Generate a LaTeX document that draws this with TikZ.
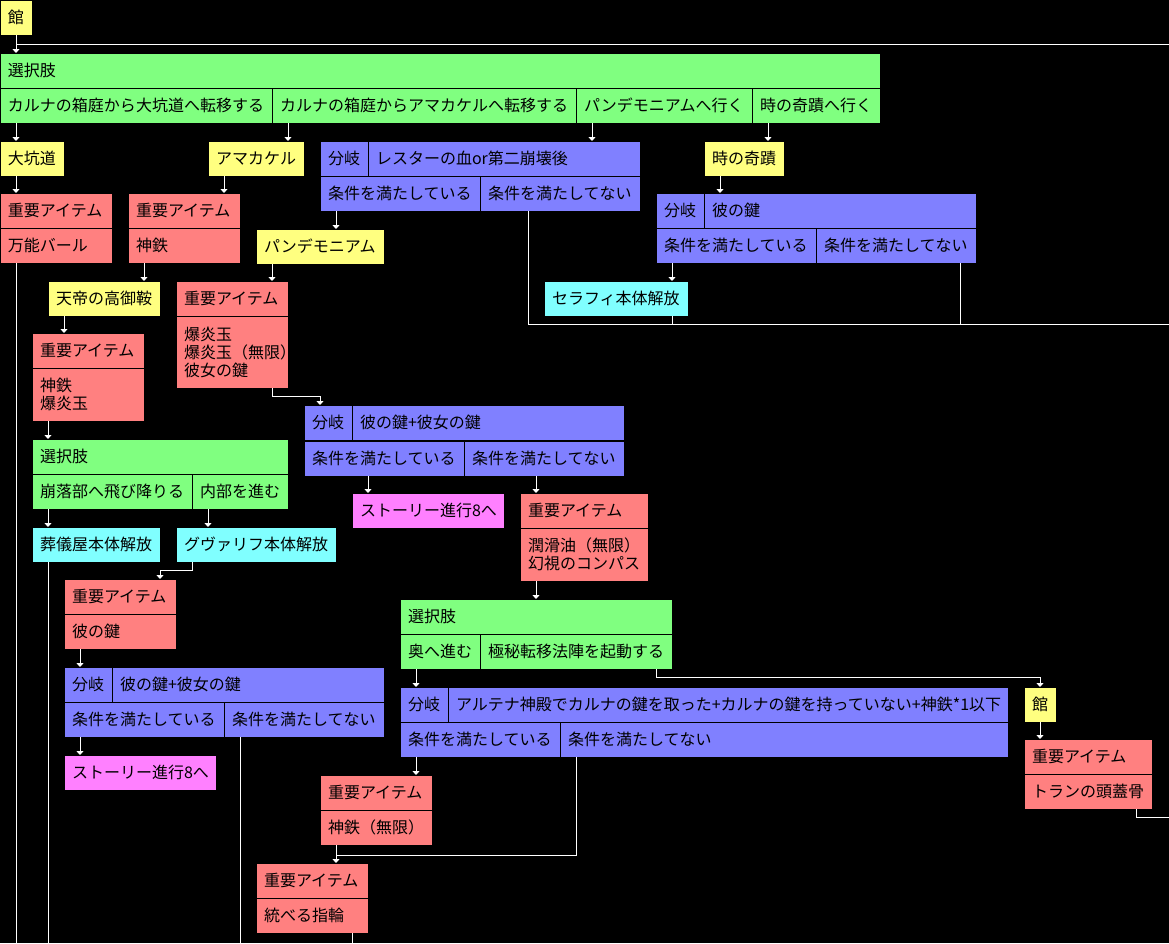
\documentclass[tikz,border=0pt]{standalone}
\usepackage{fontspec}
\usepackage{tikz}
\usetikzlibrary{arrows.meta, calc}
\newfontfamily\jp{Noto Sans CJK JP}
\definecolor{yelbox}{HTML}{FFFF80}
\definecolor{grnbox}{HTML}{80FF80}
\definecolor{blubox}{HTML}{8080FF}
\definecolor{redbox}{HTML}{FF8080}
\definecolor{cyabox}{HTML}{80FFFF}
\definecolor{magbox}{HTML}{FF80FF}
\tikzset{
  cellw/.code={\pgfmathsetmacro\cellwd{#1-16}\edef\tmpcell{\noexpand\tikzset{minimum width=#1pt, text width=\cellwd pt}}\tmpcell},
  cell/.style={draw=black, line width=1pt, anchor=north west, inner xsep=8pt, inner ysep=0pt, outer sep=0pt,
    minimum height=35pt, align=left, font=\jp\fontsize{16pt}{18pt}\selectfont},
  yelcell/.style={cell, fill=yelbox},
  grncell/.style={cell, fill=grnbox},
  blucell/.style={cell, fill=blubox},
  redcell/.style={cell, fill=redbox},
  cyacell/.style={cell, fill=cyabox},
  magcell/.style={cell, fill=magbox},
  wire/.style={draw=white, line width=1pt},
  arr/.style={wire, -{Triangle[width=7pt,length=4pt]}}
}
\newcommand{\drop}[2]{\draw[arr] ([xshift=16pt]#1.south west) coordinate (p) -- (p |- #2.north);}
\newcommand{\dropto}[2]{\path ([xshift=16pt]#2.north west) coordinate (p); \draw[arr] (p |- #1.south) -- (p);}

\begin{document}
\begin{tikzpicture}[x=1pt, y=-1pt]
\useasboundingbox (0,0) rectangle (1169,943);
\fill[black] (0,0) rectangle (1169,943);
\coordinate (edgeA) at (1169,44);
\coordinate (edgeB) at (1169,324);
\coordinate (edgeC) at (1169,817);
\coordinate (floor) at (0,943);

% top
\node[yelcell, cellw=32] (yakata1) at (0,0) {館};
\node[grncell, cellw=880] (sel1) at (0,53) {選択肢};
\node[grncell, cellw=272] (sel1a) at (0,88) {カルナの箱庭から大坑道へ転移する};
\node[grncell, cellw=304] (sel1b) at (272,88) {カルナの箱庭からアマカケルへ転移する};
\node[grncell, cellw=176] (sel1c) at (576,88) {パンデモニアムへ行く};
\node[grncell, cellw=128] (sel1d) at (752,88) {時の奇蹟へ行く};

\node[yelcell, cellw=64] (daikou) at (0,141) {大坑道};
\node[yelcell, cellw=96] (amakakeru) at (208,141) {アマカケル};
\node[blucell, cellw=48] (br1) at (320,141) {分岐};
\node[blucell, cellw=272] (br1x) at (368,141) {レスターの血or第二崩壊後};
\node[blucell, cellw=160] (br1y) at (320,176) {条件を満たしている};
\node[blucell, cellw=160] (br1n) at (480,176) {条件を満たしてない};
\node[yelcell, cellw=80] (toki) at (704,141) {時の奇蹟};

\node[redcell, cellw=112] (item1) at (0,193) {重要アイテム};
\node[redcell, cellw=112] (item1x) at (0,228) {万能バール};
\node[redcell, cellw=112] (item2) at (128,193) {重要アイテム};
\node[redcell, cellw=112] (item2x) at (128,228) {神鉄};
\node[yelcell, cellw=128] (pandemo) at (256,229) {パンデモニアム};
\node[blucell, cellw=48] (br2) at (656,193) {分岐};
\node[blucell, cellw=272] (br2x) at (704,193) {彼の鍵};
\node[blucell, cellw=160] (br2y) at (656,228) {条件を満たしている};
\node[blucell, cellw=160] (br2n) at (816,228) {条件を満たしてない};
\node[cyacell, cellw=144] (serafi) at (544,281) {セラフィ本体解放};

% middle
\node[yelcell, cellw=112] (tentei) at (48,281) {天帝の高御鞍};
\node[redcell, cellw=112] (item3) at (176,281) {重要アイテム};
\node[redcell, cellw=112, minimum height=72pt] (item3x) at (176,316) {爆炎玉\\爆炎玉（無限）\\彼女の鍵};
\node[redcell, cellw=112] (item4) at (32,333) {重要アイテム};
\node[redcell, cellw=112, minimum height=53pt] (item4x) at (32,368) {神鉄\\爆炎玉};
\node[blucell, cellw=48] (br3) at (304,405) {分岐};
\node[blucell, cellw=272] (br3x) at (352,405) {彼の鍵+彼女の鍵};
\node[blucell, cellw=160] (br3y) at (304,441) {条件を満たしている};
\node[blucell, cellw=160] (br3n) at (464,441) {条件を満たしてない};
\node[grncell, cellw=256] (sel2) at (32,439) {選択肢};
\node[grncell, cellw=160] (sel2a) at (32,474) {崩落部へ飛び降りる};
\node[grncell, cellw=96] (sel2b) at (192,474) {内部を進む};
\node[magcell, cellw=152] (story1) at (352,493) {ストーリー進行8へ};
\node[redcell, cellw=128] (item5) at (520,493) {重要アイテム};
\node[redcell, cellw=128, minimum height=53pt] (item5x) at (520,528) {潤滑油（無限）\\幻視のコンパス};
\node[cyacell, cellw=128] (sougi) at (32,527) {葬儀屋本体解放};
\node[cyacell, cellw=160] (guva) at (176,527) {グヴァリフ本体解放};

% bottom
\node[redcell, cellw=112] (item6) at (64,579) {重要アイテム};
\node[redcell, cellw=112] (item6x) at (64,614) {彼の鍵};
\node[grncell, cellw=272] (sel3) at (400,599) {選択肢};
\node[grncell, cellw=80] (sel3a) at (400,634) {奥へ進む};
\node[grncell, cellw=192] (sel3b) at (480,634) {極秘転移法陣を起動する};
\node[blucell, cellw=48] (br4) at (64,667) {分岐};
\node[blucell, cellw=272] (br4x) at (112,667) {彼の鍵+彼女の鍵};
\node[blucell, cellw=160] (br4y) at (64,702) {条件を満たしている};
\node[blucell, cellw=160] (br4n) at (224,702) {条件を満たしてない};
\node[blucell, cellw=48] (br5) at (400,687) {分岐};
\node[blucell, cellw=560] (br5x) at (448,687) {アルテナ神殿でカルナの鍵を取った+カルナの鍵を持っていない+神鉄*1以下};
\node[blucell, cellw=160] (br5y) at (400,722) {条件を満たしている};
\node[blucell, cellw=448] (br5n) at (560,722) {条件を満たしてない};
\node[yelcell, cellw=32] (yakata2) at (1024,687) {館};
\node[magcell, cellw=152] (story2) at (64,755) {ストーリー進行8へ};
\node[redcell, cellw=128] (item7) at (1024,739) {重要アイテム};
\node[redcell, cellw=128] (item7x) at (1024,774) {トランの頭蓋骨};
\node[redcell, cellw=112] (item8) at (320,775) {重要アイテム};
\node[redcell, cellw=112] (item8x) at (320,810) {神鉄（無限）};
\node[redcell, cellw=112] (item9) at (256,863) {重要アイテム};
\node[redcell, cellw=112] (item9x) at (256,898) {統べる指輪};

% straight drops
\drop{yakata1}{sel1}
\drop{sel1a}{daikou}
\drop{sel1b}{amakakeru}
\drop{sel1c}{br1}
\drop{sel1d}{toki}
\drop{daikou}{item1}
\drop{amakakeru}{item2}
\drop{br1y}{pandemo}
\drop{toki}{br2}
\drop{br2y}{serafi}
\drop{item2x}{tentei}
\drop{tentei}{item4}
\drop{pandemo}{item3}
\drop{item4x}{sel2}
\drop{sel2a}{sougi}
\drop{sel2b}{guva}
\dropto{br3y}{story1}
\dropto{br3n}{item5}
\drop{item5x}{sel3}
\drop{item6x}{br4}
\drop{br4y}{story2}
\drop{sel3a}{br5}
\drop{br5y}{item8}
\drop{yakata2}{item7}

% elbows
\draw[arr] ([xshift=-16pt]item3x.south east) -- ++(0,8) -| ([xshift=16pt]br3.north west);
\draw[arr] ([xshift=16pt]guva.south west) -- ++(0,8) -| ([xshift=-16pt]item6.north east);
\draw[arr] ([xshift=-16pt]sel3b.south east) -- ++(0,8) -| (yakata2.north);
\draw[arr] ([xshift=16pt]item8x.south west) coordinate (m) -- (m |- item9.north);
\draw[wire] ([xshift=16pt]br5n.south west) |- ($(m |- item9.north)+(0,-8)$);

% lines running off the page
\draw[wire] (edgeA) -- (yakata1.south |- edgeA);
\draw[wire] ([xshift=48pt]br1n.south west) |- (edgeB);
\draw[wire] ([xshift=-16pt]serafi.south east) coordinate (q) -- (q |- edgeB);
\draw[wire] ([xshift=-16pt]br2n.south east) coordinate (q) -- (q |- edgeB);
\draw[wire] ([xshift=-16pt]item7x.south east) |- (edgeC);
\draw[wire] ([xshift=16pt]item1x.south west) coordinate (q) -- (q |- floor);
\draw[wire] ([xshift=16pt]sougi.south west) coordinate (q) -- (q |- floor);
\draw[wire] ([xshift=16pt]br4n.south west) coordinate (q) -- (q |- floor);
\draw[wire] ([xshift=-16pt]item9x.south east) coordinate (q) -- (q |- floor);
\end{tikzpicture}
\end{document}
